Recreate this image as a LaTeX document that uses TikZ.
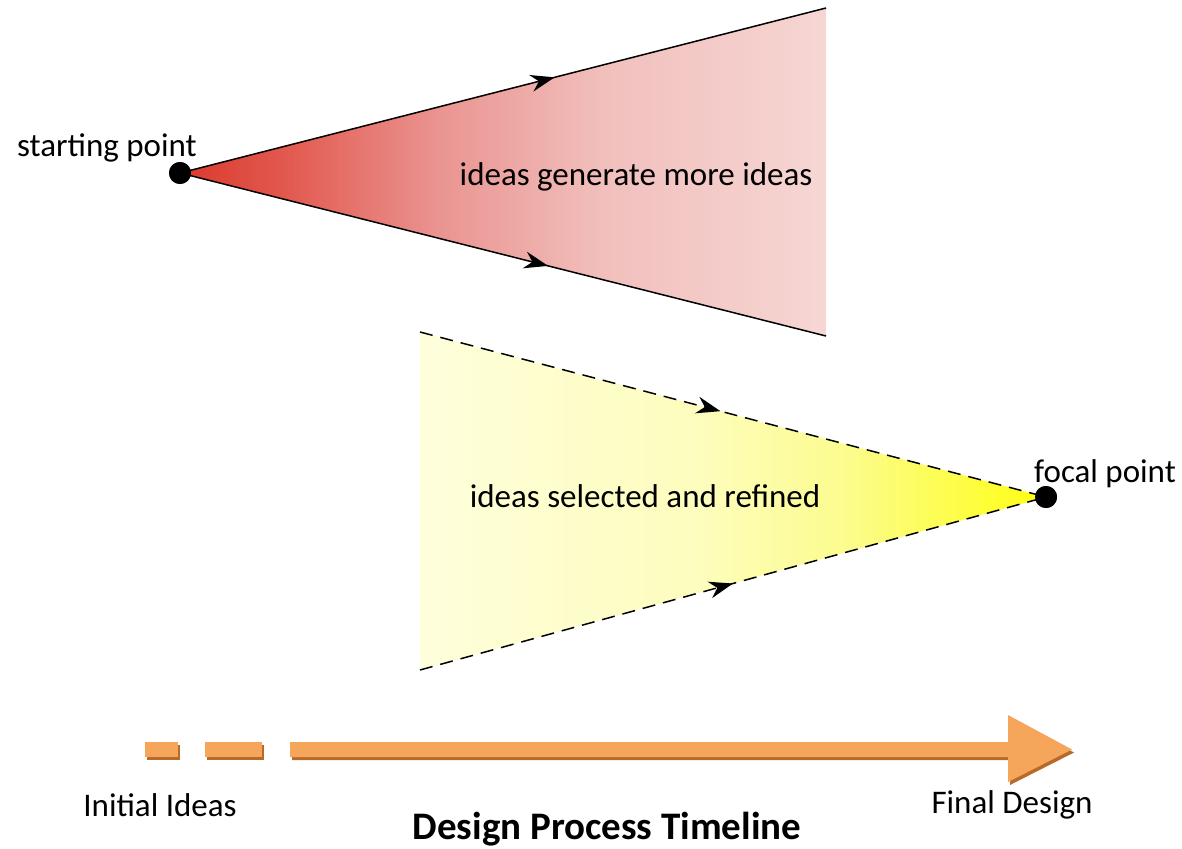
\documentclass[tikz,border=0pt]{standalone}
\usepackage{fontspec}
\setmainfont{Carlito}
\usetikzlibrary{arrows.meta,decorations.markings}
\definecolor{orA}{HTML}{F5A65B}
\definecolor{orS}{HTML}{B86A2A}
\pgfdeclarehorizontalshading{redsh}{100bp}{%
  color(0bp)=(rgb,255:red,218;green,58;blue,44);
  color(25bp)=(rgb,255:red,218;green,58;blue,44);
  color(33bp)=(rgb,255:red,226;green,88;blue,78);
  color(45bp)=(rgb,255:red,234;green,148;blue,145);
  color(58bp)=(rgb,255:red,241;green,192;blue,189);
  color(75bp)=(rgb,255:red,246;green,214;blue,211);
  color(100bp)=(rgb,255:red,246;green,214;blue,211)}
\pgfdeclarehorizontalshading{yelsh}{100bp}{%
  color(0bp)=(rgb,255:red,254;green,254;blue,220);
  color(25bp)=(rgb,255:red,254;green,254;blue,220);
  color(47bp)=(rgb,255:red,253;green,253;blue,190);
  color(59bp)=(rgb,255:red,252;green,252;blue,142);
  color(67bp)=(rgb,255:red,253;green,253;blue,80);
  color(75bp)=(rgb,255:red,255;green,255;blue,16);
  color(100bp)=(rgb,255:red,255;green,255;blue,16)}
\tikzset{
  midarrow/.style={postaction={decorate,decoration={markings,
    mark=at position #1 with {\arrow{Stealth[length=24pt,width=17pt]}}}}},
  edgeline/.style={draw=black,line width=1.5pt},
  dashedge/.style={draw=black,line width=1.5pt,dash pattern=on 13pt off 8pt},
  dot/.style={circle,fill=black,inner sep=0pt,minimum size=22pt},
  lbl/.style={font=\fontsize{33}{36}\selectfont,inner sep=0pt},
  ttl/.style={font=\fontsize{39}{42}\selectfont\bfseries,inner sep=0pt},
}
\begin{document}
\begin{tikzpicture}[x=1pt,y=-1pt]
\useasboundingbox (0,0) rectangle (1182,848);
% red diverging triangle
\coordinate (rt) at (826,8);
\coordinate (rb) at (826,336);
\node[dot] (start) at (180,173) {};
\shade[shading=redsh] (start.center) -- (rt) -- (rb) -- cycle;
\draw[edgeline,midarrow=0.58] (start.center) -- (rt);
\draw[edgeline,midarrow=0.57] (start.center) -- (rb);
\node[dot] at (start.center) {};
\node[lbl,anchor=south east] (startlbl) at (197,162) {starting point};
\node[lbl] (gen) at (636,177) {ideas generate more ideas};
% yellow converging triangle
\coordinate (yt) at (420,332);
\coordinate (yb) at (420,670);
\node[dot] (focal) at (1046,497) {};
\shade[shading=yelsh] (yt) -- (focal.center) -- (yb) -- cycle;
\draw[dashedge,midarrow=0.48] (yt) -- (focal.center);
\draw[dashedge,midarrow=0.50] (yb) -- (focal.center);
\node[dot] at (focal.center) {};
\node[lbl,anchor=south west] (focallbl) at (1034,488) {focal point};
\node[lbl] (sel) at (645,496) {ideas selected and refined};
% timeline arrow
\coordinate (d1a) at (145,742); \coordinate (d1b) at (178,757);
\coordinate (d2a) at (205,742); \coordinate (d2b) at (262,757);
\fill[orS] ([shift={(2,3)}]d1a) rectangle ([shift={(2,3)}]d1b);
\fill[orS] ([shift={(2,3)}]d2a) rectangle ([shift={(2,3)}]d2b);
\fill[orS,shift={(2,3)}] (290,742) -- (1008,742) -- (1008,715) -- (1072,749.5) -- (1008,782) -- (1008,757) -- (290,757) -- cycle;
\fill[orA] (d1a) rectangle (d1b);
\fill[orA] (d2a) rectangle (d2b);
\fill[orA] (290,742) -- (1008,742) -- (1008,715) -- (1072,749.5) -- (1008,782) -- (1008,757) -- (290,757) -- cycle;
\node[lbl] (init) at (160,805) {Initial Ideas};
\node[lbl] (final) at (1012,805) {Final Design};
\node[ttl] (title) at (607,829) {Design Process Timeline};
\end{tikzpicture}
\end{document}
